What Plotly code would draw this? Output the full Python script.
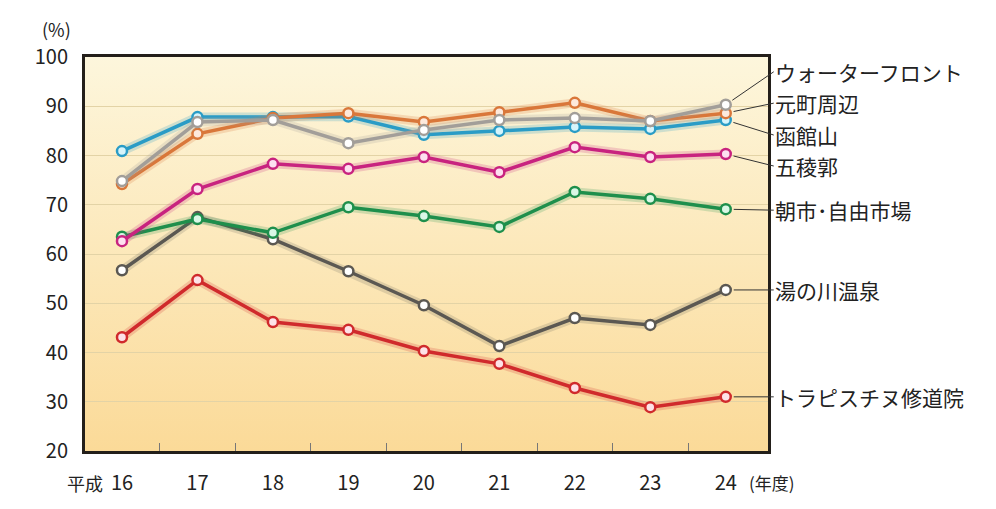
import base64
import plotly.graph_objects as go

years = ["16", "17", "18", "19", "20", "21", "22", "23", "24"]

waterfront = [74.8, 86.8, 87.2, 82.5, 85.2, 87.2, 87.6, 87.0, 90.3]
motomachi = [74.2, 84.4, 87.6, 88.6, 86.8, 88.8, 90.7, 87.0, 88.6]
hakodateyama = [80.9, 87.8, 87.8, 87.9, 84.2, 85.0, 85.8, 85.4, 87.2]
goryokaku = [62.6, 73.2, 78.3, 77.3, 79.7, 76.6, 81.7, 79.7, 80.3]
asaichi = [63.5, 67.1, 64.3, 69.5, 67.7, 65.5, 72.6, 71.2, 69.1]
yunokawa = [56.7, 67.5, 63.0, 56.5, 49.6, 41.3, 47.0, 45.6, 52.7]
trappistine = [43.1, 54.7, 46.2, 44.6, 40.3, 37.7, 32.8, 28.9, 31.0]

names = ["ウォーターフロント", "元町周辺", "函館山", "五稜郭", "朝市･自由市場", "湯の川温泉", "トラピスチヌ修道院"]
values = [waterfront, motomachi, hakodateyama, goryokaku, asaichi, yunokawa, trappistine]

# styling (line colour, marker fill, glow rgba, label offset in px)
colors = ["#a29e99", "#d9773a", "#2a9cc6", "#c8237f", "#1e8f4c", "#5b5852", "#d02a2c"]
fills = ["#ffffff", "#fde9dc", "#d6f4fb", "#fde0f0", "#d9f7e6", "#ffffff", "#fde2e8"]
glows = ["rgba(162,158,153,0.22)", "rgba(217,119,58,0.22)", "rgba(42,156,198,0.22)",
         "rgba(200,35,127,0.2)", "rgba(30,143,76,0.2)", "rgba(91,88,82,0.18)", "rgba(208,42,44,0.2)"]
label_dy = [-33, -10, 15, 12, 1, 0, 0]
draw_order = [6, 5, 4, 3, 2, 1, 0]

xi = list(range(len(years)))
FONT = "Noto Sans CJK JP"

fig = go.Figure()
for i in draw_order:
    fig.add_trace(go.Scatter(x=xi, y=values[i], mode="lines",
                             line=dict(color=glows[i], width=9),
                             hoverinfo="skip", showlegend=False))
    fig.add_trace(go.Scatter(x=xi, y=values[i], mode="lines+markers", name=names[i],
                             line=dict(color=colors[i], width=3.5),
                             marker=dict(size=10, color=fills[i],
                                         line=dict(color=colors[i], width=2.5)),
                             showlegend=False))

svg = ('<svg xmlns="http://www.w3.org/2000/svg" width="100" height="100" preserveAspectRatio="none">'
       '<defs><linearGradient id="g" x1="0" y1="0" x2="0" y2="1">'
       '<stop offset="0" stop-color="#fdf6dc"/><stop offset="1" stop-color="#fbda98"/>'
       '</linearGradient></defs><rect width="100" height="100" fill="url(#g)"/></svg>')
src = "data:image/svg+xml;base64," + base64.b64encode(svg.encode()).decode()

annotations = []
for i in range(len(names)):
    annotations.append(dict(x=xi[-1], y=values[i][-1], xref="x", yref="y",
                            text=names[i], showarrow=True, arrowhead=0, arrowwidth=1,
                            arrowcolor="#333333", ax=48, ay=label_dy[i], axref="pixel",
                            ayref="pixel", xanchor="left", standoff=8, borderpad=0,
                            font=dict(family=FONT, size=21, color="#222222")))
annotations += [
    dict(x=-0.041, y=1.07, xref="paper", yref="paper", text="(%)", showarrow=False,
         xanchor="center", yanchor="middle", font=dict(family=FONT, size=18, color="#222")),
    dict(x=0.0, y=-0.08, xref="paper", yref="paper", text="平成", showarrow=False,
         xanchor="center", yanchor="middle", font=dict(family=FONT, size=18, color="#222")),
    dict(x=1.006, y=-0.08, xref="paper", yref="paper", text="(年度)", showarrow=False,
         xanchor="center", yanchor="middle", font=dict(family=FONT, size=17, color="#222")),
]

fig.update_layout(
    width=996, height=509,
    margin=dict(l=85, r=228, t=57, b=58),
    paper_bgcolor="white", plot_bgcolor="rgba(0,0,0,0)",
    images=[dict(source=src, xref="paper", yref="paper", x=0, y=1, sizex=1, sizey=1,
                 sizing="stretch", layer="below", xanchor="left", yanchor="top")],
    annotations=annotations,
    xaxis=dict(range=[-0.49, 8.56], tickvals=xi, ticktext=years, ticks="",
               showgrid=False, zeroline=False, showline=True, mirror=True,
               linecolor="#231f1a", linewidth=3, ticklabelstandoff=12,
               tickfont=dict(family=FONT, size=20, color="#222"),
               minor=dict(tickvals=[k + 0.5 for k in xi[:-1]], ticks="inside",
                          ticklen=8, tickcolor="#777", tickwidth=1, showgrid=False)),
    yaxis=dict(range=[20, 100], dtick=10, ticks="", showgrid=True,
               gridcolor="#e3d3a6", gridwidth=1, zeroline=False, showline=True,
               mirror=True, linecolor="#231f1a", linewidth=3,
               ticklabelstandoff=10,
               tickfont=dict(family=FONT, size=20, color="#222")),
)

fig.write_html("out.html")
